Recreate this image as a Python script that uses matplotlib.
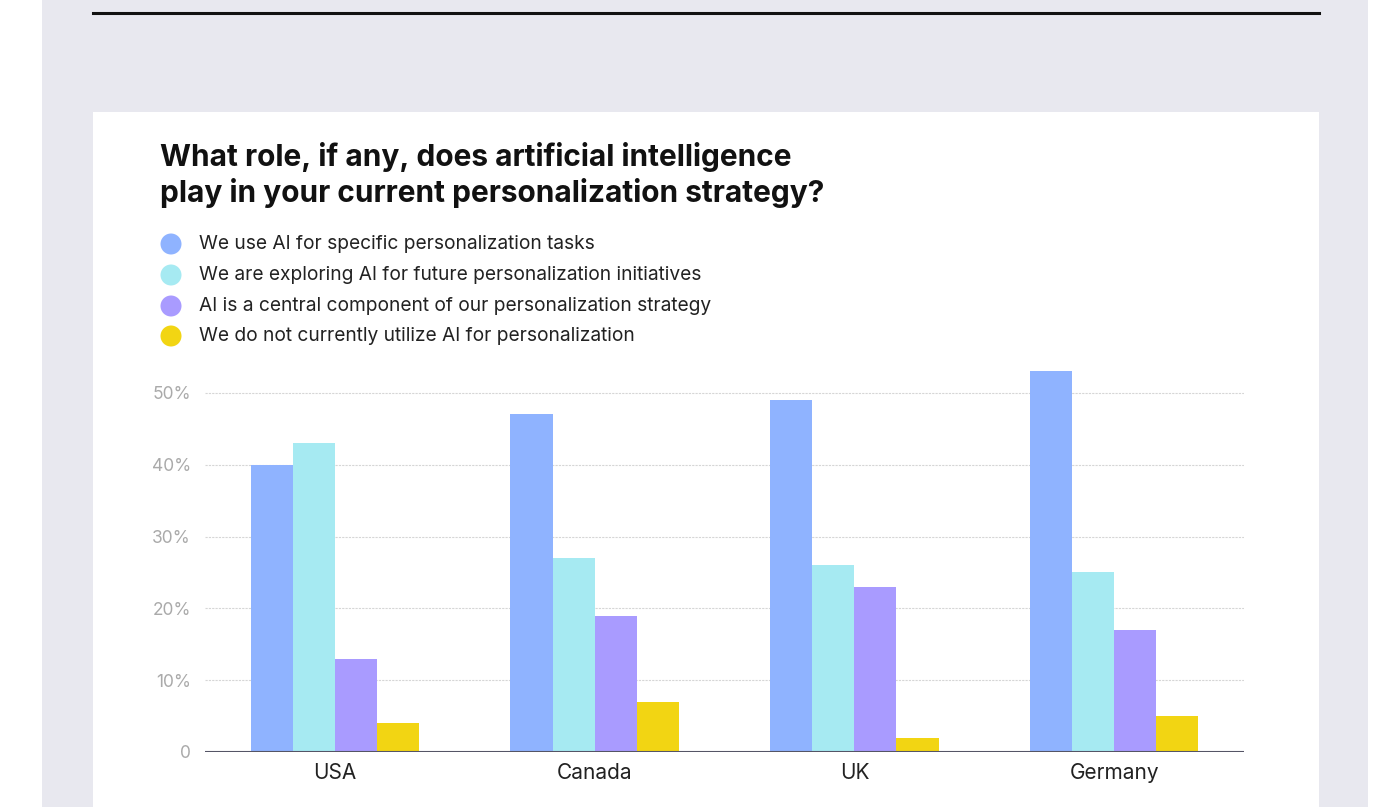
import matplotlib.pyplot as plt
from matplotlib.patches import Rectangle, Ellipse
from matplotlib.lines import Line2D
import numpy as np

countries = ["USA", "Canada", "UK", "Germany"]
series_names = [
    "We use AI for specific personalization tasks",
    "We are exploring AI for future personalization initiatives",
    "AI is a central component of our personalization strategy",
    "We do not currently utilize AI for personalization",
]
specific_tasks = [40, 47, 49, 53]
exploring = [43, 27, 26, 25]
central = [13, 19, 23, 17]
not_used = [4, 7, 2, 5]
yticks = [0, 10, 20, 30, 40, 50]
ytick_labels = ["0", "10%", "20%", "30%", "40%", "50%"]

colors = ["#8fb3ff", "#a6eaf2", "#a99bff", "#f2d513"]
W, H = 1373, 807

fig = plt.figure(figsize=(W / 100, H / 100), dpi=100, facecolor="white")

# page background, rule and white card (pixel coords converted to figure fraction)
def fx(px):
    return px / W

def fy(py):
    return 1 - py / H

fig.patches.append(Rectangle((fx(42), 0), fx(1368) - fx(42), 1, transform=fig.transFigure,
                             facecolor="#e8e8ef", edgecolor="none", zorder=0))
fig.lines.append(Line2D([fx(93), fx(1319)], [fy(13), fy(13)], transform=fig.transFigure,
                        color="#111111", linewidth=2.2, zorder=1))
fig.patches.append(Rectangle((fx(93), 0), fx(1319) - fx(93), fy(112), transform=fig.transFigure,
                             facecolor="white", edgecolor="none", zorder=1))

# title
fig.text(fx(160), fy(157), "What role, if any, does artificial intelligence",
         fontsize=21.5, fontweight="bold", family="Inter", color="#111111", va="center")
fig.text(fx(160), fy(193), "play in your current personalization strategy?",
         fontsize=21.5, fontweight="bold", family="Inter", color="#111111", va="center")

# legend
legend_y = [244, 275, 306, 336]
for name, c, ly in zip(series_names, colors, legend_y):
    fig.patches.append(Ellipse((fx(171), fy(ly)), 21 / W, 21 / H, transform=fig.transFigure,
                               facecolor=c, edgecolor="none", zorder=3))
    fig.text(fx(199), fy(ly), name, fontsize=13.8, family="Inter", color="#222222",
             va="center", zorder=3)

ax = fig.add_axes([fx(205), 55 / H, fx(1244) - fx(205), (752 - 357) / H])
ax.set_facecolor("white")
ax.set_zorder(2)

x = np.arange(len(countries))
bw = 0.162
series = [specific_tasks, exploring, central, not_used]
for i, (vals, c) in enumerate(zip(series, colors)):
    ax.bar(x + (i - 1.5) * bw, vals, width=bw, color=c, zorder=3, linewidth=0)

ax.set_xlim(-0.5, 3.5)
ax.set_ylim(0, 55)
ax.set_yticks(yticks)
ax.set_yticklabels(ytick_labels, fontsize=12.5, color="#aaaaaa", family="Inter")
ax.set_xticks(x)
ax.set_xticklabels(countries, fontsize=15, color="#222222", family="Inter")
ax.tick_params(axis="both", length=0)
ax.tick_params(axis="y", pad=10)
ax.tick_params(axis="x", pad=8)

for t in yticks[1:]:
    ax.axhline(t, color="#d6d6d6", linewidth=0.8, linestyle=(0, (2, 1)), zorder=1)
ax.axhline(0, color="#555566", linewidth=1.5, zorder=4)

for s in ax.spines.values():
    s.set_visible(False)

fig.savefig("out.png", dpi=100, facecolor=fig.get_facecolor())
